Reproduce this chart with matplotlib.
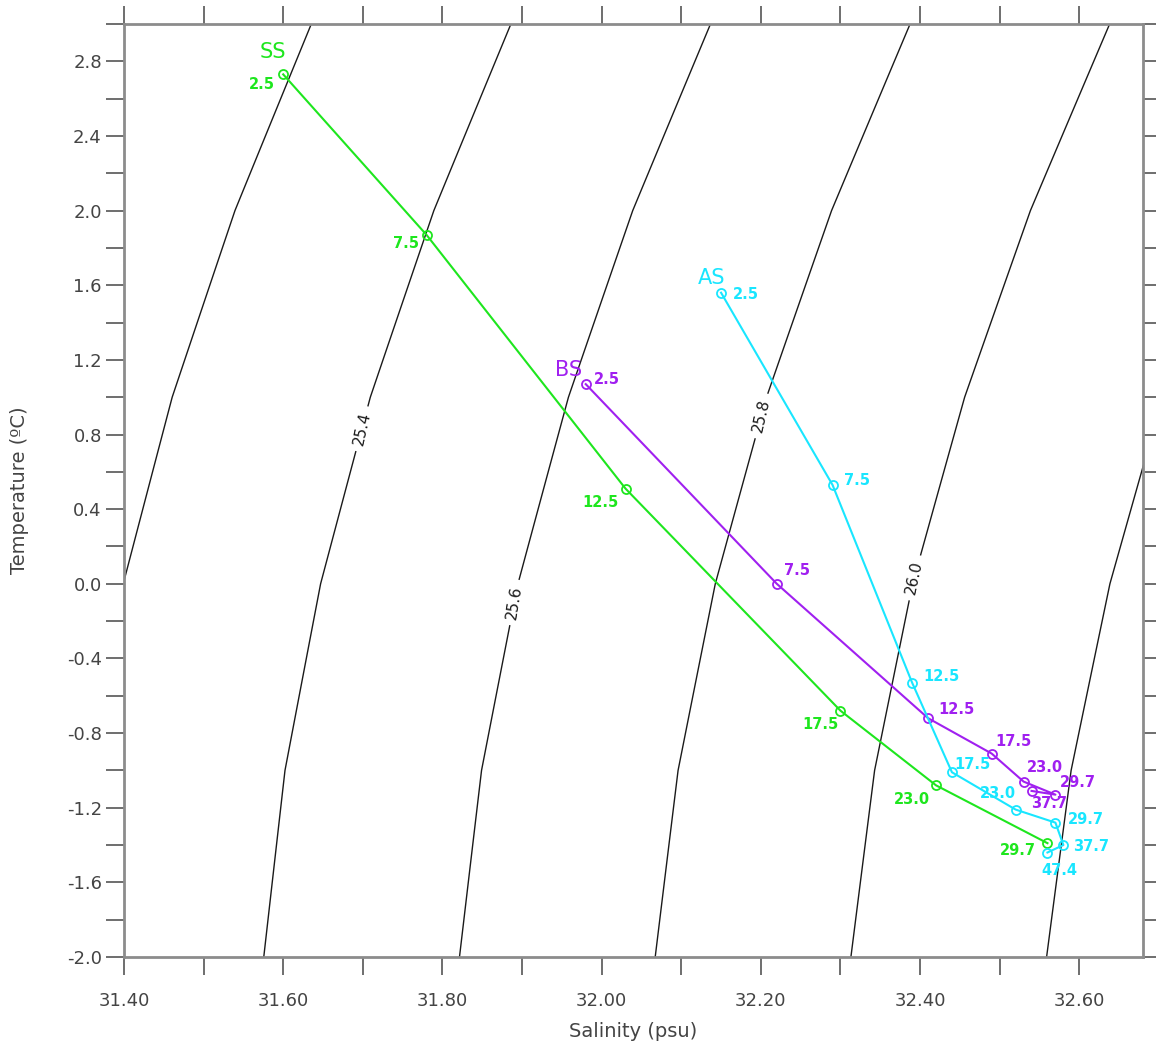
import numpy as np
import matplotlib
matplotlib.use('Agg')
import matplotlib.pyplot as plt
from matplotlib.ticker import MultipleLocator

# --- station profiles: depth (m), salinity (psu), temperature (degC) ---
ss_depth = ['2.5', '7.5', '12.5', '17.5', '23.0', '29.7']
ss_sal = [31.60, 31.78, 32.03, 32.30, 32.42, 32.56]
ss_temp = [2.73, 1.87, 0.51, -0.68, -1.08, -1.39]

bs_depth = ['2.5', '7.5', '12.5', '17.5', '23.0', '29.7', '37.7']
bs_sal = [31.98, 32.22, 32.41, 32.49, 32.53, 32.57, 32.54]
bs_temp = [1.07, 0.00, -0.72, -0.91, -1.06, -1.13, -1.11]

as_depth = ['2.5', '7.5', '12.5', '17.5', '23.0', '29.7', '37.7', '47.4']
as_sal = [32.15, 32.29, 32.39, 32.44, 32.52, 32.57, 32.58, 32.56]
as_temp = [1.56, 0.53, -0.53, -1.01, -1.21, -1.28, -1.40, -1.44]

sigma_levels = [25.0, 25.2, 25.4, 25.6, 25.8, 26.0, 26.2, 26.4]


def sigma_t(s, t):
    """Surface density anomaly (UNESCO 1981 equation of state)."""
    rho_w = (999.842594 + 6.793952e-2 * t - 9.095290e-3 * t**2
             + 1.001685e-4 * t**3 - 1.120083e-6 * t**4 + 6.536332e-9 * t**5)
    a = 0.824493 - 4.0899e-3 * t + 7.6438e-5 * t**2 - 8.2467e-7 * t**3 + 5.3875e-9 * t**4
    b = -5.72466e-3 + 1.0227e-4 * t - 1.6546e-6 * t**2
    return rho_w + a * s + b * s**1.5 + 4.8314e-4 * s**2 - 1000.0


GREY = '#444444'
plt.rcParams['font.family'] = ['DejaVu Sans']

fig = plt.figure(figsize=(11.56, 10.46), dpi=100)
ax = fig.add_axes([124 / 1156, 1 - 957 / 1046, (1143 - 124) / 1156, (957 - 24) / 1046])

# isopycnals on a coarse (1 degC) temperature grid
S, T = np.meshgrid(np.linspace(31.3, 32.8, 301), np.arange(-2.0, 3.01, 1.0))
cs = ax.contour(S, T, sigma_t(S, T), levels=sigma_levels, colors='#1a1a1a', linewidths=1.0, zorder=1)
# label spots sit on the 25.4, 25.6, 25.8 and 26.0 lines
label_spots = [(31.70, 0.83), (31.89, -0.10), (32.20, 0.90), (32.395, 0.03)]
cl = ax.clabel(cs, fmt='%.1f', fontsize=11, manual=label_spots, inline=True, inline_spacing=6)
for t in cl:
    t.set_color('#1a1a1a')

series = [
    ('SS', ss_depth, ss_sal, ss_temp, '#1ee61e', (-10, 22),
     [(-8, -3, 'right', 'top'), (-8, -1, 'right', 'top'), (-7, -6, 'right', 'top'),
      (-2, -6, 'right', 'top'), (-6, -7, 'right', 'top'), (-12, 0, 'right', 'top')]),
    ('BS', bs_depth, bs_sal, bs_temp, '#a020f0', (-17, 14),
     [(8, 5, 'left', 'center'), (7, 13, 'left', 'center'), (10, 9, 'left', 'center'),
      (4, 12, 'left', 'center'), (3, 14, 'left', 'center'), (4, 12, 'left', 'center'),
      (0, -13, 'left', 'center')]),
    ('AS', as_depth, as_sal, as_temp, '#19e6ff', (-9, 15),
     [(12, -2, 'left', 'center'), (11, 4, 'left', 'center'), (11, 6, 'left', 'center'),
      (2, 8, 'left', 'center'), (-36, 16, 'left', 'center'), (12, 3, 'left', 'center'),
      (10, -1, 'left', 'center'), (-6, -18, 'left', 'center')]),
]

for name, depth, sal, temp, color, name_off, offs in series:
    ax.plot(sal, temp, color=color, lw=1.5, marker='o', ms=6.5, mfc='none', mec=color, mew=1.3, zorder=3)
    ax.annotate(name, (sal[0], temp[0]), xytext=name_off, textcoords='offset pixels',
                ha='center', va='center', fontsize=15, color=color, zorder=4)
    for d, x, y, (dx, dy, ha, va) in zip(depth, sal, temp, offs):
        ax.annotate(d, (x, y), xytext=(dx, dy), textcoords='offset pixels',
                    ha=ha, va=va, fontsize=10.5, fontweight='bold', color=color, zorder=4)

ax.set_xlim(31.40, 32.68)
ax.set_ylim(-2.0, 3.0)

ax.xaxis.set_major_locator(MultipleLocator(0.2))
ax.xaxis.set_minor_locator(MultipleLocator(0.1))
ax.yaxis.set_major_locator(MultipleLocator(0.4))
ax.yaxis.set_minor_locator(MultipleLocator(0.2))
ax.xaxis.set_major_formatter(lambda v, p: f'{v:.2f}')
ax.yaxis.set_major_formatter(lambda v, p: f'{v:.1f}')

ax.tick_params(which='both', direction='out', length=13, width=1.2, color='#555555',
               top=True, right=True, labelsize=13, labelcolor=GREY)
ax.tick_params(axis='x', pad=12)
ax.tick_params(axis='y', pad=3)
for sp in ax.spines.values():
    sp.set_color('#8c8c8c')
    sp.set_linewidth(2.0)

ax.set_xlabel('Salinity (psu)', fontsize=14, color=GREY, labelpad=9)
ax.set_ylabel('Temperature (ºC)', fontsize=14, color=GREY, labelpad=27)

fig.savefig('out.png', dpi=100)
